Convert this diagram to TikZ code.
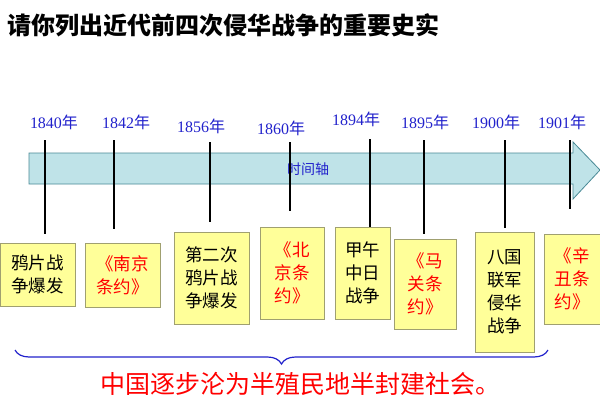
\documentclass[tikz,border=0pt]{standalone}
\usepackage{fontspec}
\newfontfamily\cjk{Noto Sans CJK SC}
\setmainfont{Liberation Serif}
\usetikzlibrary{decorations.pathreplacing}
\definecolor{yr}{HTML}{2222CC}
\definecolor{axf}{HTML}{BFE3E8}
\definecolor{axd}{HTML}{4A8A96}
\definecolor{bx}{HTML}{FFFF99}
\definecolor{bxd}{HTML}{A0A070}
\begin{document}
\begin{tikzpicture}[x=1pt,y=-1pt,
 yrl/.style={text=yr,font=\fontsize{16}{16}\selectfont,inner sep=0pt},
 tick/.style={line width=1.4pt},
 evbox/.style={draw=bxd,fill=bx,inner sep=0pt,font=\cjk\fontsize{17.5}{23}\selectfont,align=center},
 red/.style={text=red}]
\useasboundingbox (0,0) rectangle (600,400);
\fill[white] (0,0) rectangle (600,400);
\node[anchor=west,font=\cjk\bfseries\fontsize{24}{24}\selectfont] (title) at (4,25) {请你列出近代前四次侵华战争的重要史实};
\draw[axd,fill=axf,line width=0.8pt] (29,153) -- (573,153) -- (573,142) -- (600,170) -- (573,199) -- (573,184) -- (29,184) -- cycle;
\node[text=yr,font=\cjk\fontsize{14}{14}\selectfont] (axl) at (308,169) {时间轴};
\foreach \n/\x/\t/\b/\ly/\lx/\y in {a/45/140/234/122/54/1840,b/114/140/229/122/126/1842,c/210/142/222/126/201/1856,d/290/142/211/128/281/1860,e/370/139/228/119/356/1894,f/424/140/234/122/425/1895,g/505/140/228/122/496/1900,h/570/140/209/122/562/1901}{
 \coordinate (t\n) at (\x,\t); \coordinate (b\n) at (\x,\b);
 \draw[tick] (t\n) -- (b\n);
 \node[yrl] (y\n) at (\lx,\ly) {\y\cjk 年};
}
\node[evbox,minimum width=75,minimum height=63] (e1) at (37.5,274.5) {鸦片战\\争爆发};
\node[evbox,minimum width=75,minimum height=64,red] (e2) at (122.5,275) {《南京\\条约》};
\node[evbox,minimum width=75,minimum height=92] (e3) at (211.5,278) {第二次\\鸦片战\\争爆发};
\node[evbox,minimum width=64,minimum height=92,red] (e4) at (292,273) {《北\\京条\\约》};
\node[evbox,minimum width=55,minimum height=92] (e5) at (362.5,273) {甲午\\中日\\战争};
\node[evbox,minimum width=62,minimum height=90,red] (e6) at (425,284) {《马\\关条\\约》};
\node[evbox,minimum width=59,minimum height=120] (e7) at (504.5,292) {八国\\联军\\侵华\\战争};
\node[evbox,minimum width=56,minimum height=90,red] (e8) at (572,279) {《辛\\丑条\\约》};
\coordinate (bl) at (15,350); \coordinate (br) at (548,350);
\draw[yr,line width=1.2pt,decorate,decoration={brace,amplitude=14pt,mirror}] (bl) -- (br);
\node[text=red,font=\cjk\fontsize{25}{25}\selectfont] (concl) at (300,384) {中国逐步沦为半殖民地半封建社会。};
\end{tikzpicture}
\end{document}
